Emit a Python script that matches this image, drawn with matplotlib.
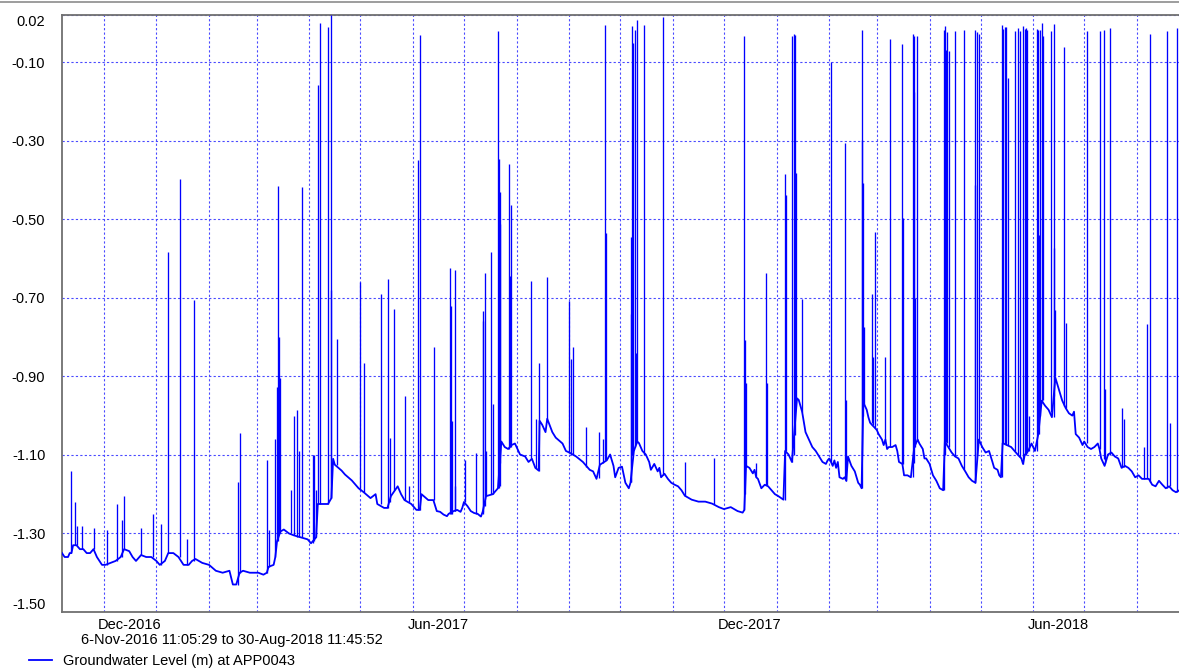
import matplotlib
matplotlib.use("Agg")
import matplotlib.pyplot as plt
import matplotlib.dates as mdates
from matplotlib.lines import Line2D
from matplotlib.ticker import NullFormatter
import pandas as pd

plt.rcParams['font.family'] = ['Liberation Sans', 'DejaVu Sans']

# groundwater level between events (date, level in m)
baseline = [
    ("2016-11-06 11:05", -1.35), ("2016-11-08", -1.36), ("2016-11-10", -1.36), ("2016-11-11", -1.35),
    ("2016-11-12", -1.35), ("2016-11-13", -1.33), ("2016-11-15", -1.33), ("2016-11-17", -1.34),
    ("2016-11-19", -1.34), ("2016-11-21", -1.35), ("2016-11-23", -1.35), ("2016-11-25", -1.34),
    ("2016-11-27", -1.36), ("2016-11-30", -1.38), ("2016-12-02", -1.38), ("2016-12-05", -1.375),
    ("2016-12-08", -1.37), ("2016-12-11", -1.36), ("2016-12-13", -1.34), ("2016-12-16", -1.345),
    ("2016-12-18", -1.36), ("2016-12-20", -1.37), ("2016-12-23", -1.355), ("2016-12-26", -1.36),
    ("2016-12-29", -1.36), ("2017-01-01", -1.37), ("2017-01-03", -1.38), ("2017-01-06", -1.37),
    ("2017-01-08", -1.35), ("2017-01-11", -1.35), ("2017-01-14", -1.36), ("2017-01-17", -1.38),
    ("2017-01-20", -1.38), ("2017-01-22", -1.37), ("2017-01-24", -1.365), ("2017-01-28", -1.375),
    ("2017-02-01", -1.38), ("2017-02-05", -1.395), ("2017-02-09", -1.40), ("2017-02-13", -1.395),
    ("2017-02-15", -1.43), ("2017-02-17", -1.43), ("2017-02-19", -1.40), ("2017-02-21", -1.395),
    ("2017-02-25", -1.40), ("2017-03-02", -1.40), ("2017-03-05", -1.405), ("2017-03-07", -1.40),
    ("2017-03-08", -1.385), ("2017-03-11", -1.38), ("2017-03-12", -1.36), ("2017-03-13", -1.32),
    ("2017-03-15", -1.295), ("2017-03-17", -1.29), ("2017-03-20", -1.30), ("2017-03-23", -1.305),
    ("2017-03-27", -1.31), ("2017-03-31", -1.315), ("2017-04-02", -1.325), ("2017-04-05", -1.31),
    ("2017-04-06", -1.225), ("2017-04-12", -1.225), ("2017-04-14", -1.21), ("2017-04-15", -1.11),
    ("2017-04-16", -1.125), ("2017-04-20", -1.14), ("2017-04-22", -1.15), ("2017-04-26", -1.165),
    ("2017-04-30", -1.185), ("2017-05-03", -1.195), ("2017-05-07", -1.21), ("2017-05-10", -1.20),
    ("2017-05-11", -1.225), ("2017-05-15", -1.235), ("2017-05-17", -1.235), ("2017-05-19", -1.205),
    ("2017-05-23", -1.18), ("2017-05-25", -1.20), ("2017-05-27", -1.215), ("2017-05-31", -1.225),
    ("2017-06-03", -1.24), ("2017-06-05", -1.24), ("2017-06-06", -1.20), ("2017-06-10", -1.215),
    ("2017-06-13", -1.215), ("2017-06-15", -1.243), ("2017-06-17", -1.245), ("2017-06-19", -1.252),
    ("2017-06-21", -1.256), ("2017-06-22", -1.25), ("2017-06-25", -1.243), ("2017-06-27", -1.24),
    ("2017-06-29", -1.245), ("2017-06-30", -1.235), ("2017-07-01", -1.22), ("2017-07-03", -1.23),
    ("2017-07-05", -1.243), ("2017-07-07", -1.248), ("2017-07-09", -1.25), ("2017-07-11", -1.257),
    ("2017-07-12", -1.245), ("2017-07-14", -1.205), ("2017-07-18", -1.20), ("2017-07-20", -1.19),
    ("2017-07-21", -1.185), ("2017-07-23", -1.066), ("2017-07-25", -1.08), ("2017-07-27", -1.085),
    ("2017-07-29", -1.075), ("2017-07-31", -1.071), ("2017-08-03", -1.099), ("2017-08-06", -1.104),
    ("2017-08-08", -1.118), ("2017-08-10", -1.11), ("2017-08-12", -1.133), ("2017-08-14", -1.14),
    ("2017-08-14 12:00", -1.013), ("2017-08-16", -1.023), ("2017-08-18", -1.042), ("2017-08-19", -1.008),
    ("2017-08-22", -1.042), ("2017-08-24", -1.056), ("2017-08-28", -1.071), ("2017-08-30", -1.09),
    ("2017-09-01", -1.094), ("2017-09-05", -1.104), ("2017-09-09", -1.118), ("2017-09-13", -1.138),
    ("2017-09-15", -1.142), ("2017-09-17", -1.161), ("2017-09-19", -1.125), ("2017-09-23", -1.114),
    ("2017-09-25", -1.099), ("2017-09-27", -1.128), ("2017-09-28", -1.157), ("2017-09-30", -1.133),
    ("2017-10-02", -1.13), ("2017-10-04", -1.171), ("2017-10-06", -1.185), ("2017-10-07", -1.171),
    ("2017-10-09", -1.09), ("2017-10-11", -1.066), ("2017-10-12", -1.07), ("2017-10-14", -1.09),
    ("2017-10-16", -1.099), ("2017-10-18", -1.118), ("2017-10-19", -1.138), ("2017-10-21", -1.123),
    ("2017-10-23", -1.142), ("2017-10-24", -1.133), ("2017-10-25", -1.157), ("2017-10-27", -1.148),
    ("2017-10-29", -1.161), ("2017-10-31", -1.171), ("2017-11-02", -1.176), ("2017-11-04", -1.18),
    ("2017-11-06", -1.19), ("2017-11-08", -1.204), ("2017-11-10", -1.209), ("2017-11-12", -1.214),
    ("2017-11-16", -1.219), ("2017-11-20", -1.219), ("2017-11-24", -1.224), ("2017-11-28", -1.233),
    ("2017-12-01", -1.238), ("2017-12-05", -1.233), ("2017-12-09", -1.243), ("2017-12-12", -1.247),
    ("2017-12-13", -1.24), ("2017-12-14", -1.128), ("2017-12-16", -1.133), ("2017-12-18", -1.147),
    ("2017-12-19", -1.138), ("2017-12-20", -1.157), ("2017-12-21", -1.161), ("2017-12-23", -1.185),
    ("2017-12-25", -1.176), ("2017-12-27", -1.18), ("2017-12-29", -1.19), ("2017-12-31", -1.20),
    ("2018-01-02", -1.205), ("2018-01-05", -1.214), ("2018-01-06", -1.09), ("2018-01-08", -1.099),
    ("2018-01-10", -1.118), ("2018-01-13", -0.956), ("2018-01-14", -0.96), ("2018-01-16", -0.99),
    ("2018-01-18", -1.042), ("2018-01-20", -1.061), ("2018-01-22", -1.08), ("2018-01-24", -1.09),
    ("2018-01-26", -1.104), ("2018-01-28", -1.118), ("2018-01-30", -1.123), ("2018-01-31", -1.114),
    ("2018-02-01", -1.109), ("2018-02-02", -1.118), ("2018-02-03", -1.128), ("2018-02-04", -1.114),
    ("2018-02-05", -1.133), ("2018-02-06", -1.118), ("2018-02-07", -1.157), ("2018-02-09", -1.161),
    ("2018-02-10", -1.157), ("2018-02-11", -1.166), ("2018-02-12", -1.104), ("2018-02-14", -1.128),
    ("2018-02-16", -1.142), ("2018-02-17", -1.157), ("2018-02-18", -1.171), ("2018-02-19", -1.176),
    ("2018-02-20", -1.185), ("2018-02-21", -0.966), ("2018-02-23", -0.985), ("2018-02-24", -1.004),
    ("2018-02-25", -1.018), ("2018-02-26", -1.023), ("2018-02-28", -1.032), ("2018-03-01", -1.037),
    ("2018-03-02", -1.047), ("2018-03-04", -1.061), ("2018-03-05", -1.075), ("2018-03-06", -1.061),
    ("2018-03-07", -1.085), ("2018-03-08", -1.08), ("2018-03-10", -1.08), ("2018-03-12", -1.075),
    ("2018-03-13", -1.09), ("2018-03-14", -1.118), ("2018-03-16", -1.123), ("2018-03-17", -1.152),
    ("2018-03-19", -1.152), ("2018-03-21", -1.157), ("2018-03-23", -1.08), ("2018-03-25", -1.061),
    ("2018-03-26", -1.071), ("2018-03-28", -1.085), ("2018-03-29", -1.109), ("2018-03-30", -1.109),
    ("2018-04-01", -1.123), ("2018-04-02", -1.138), ("2018-04-03", -1.152), ("2018-04-05", -1.166),
    ("2018-04-07", -1.185), ("2018-04-09", -1.19), ("2018-04-10", -1.066), ("2018-04-12", -1.08),
    ("2018-04-14", -1.094), ("2018-04-16", -1.104), ("2018-04-18", -1.109), ("2018-04-20", -1.128),
    ("2018-04-22", -1.142), ("2018-04-24", -1.157), ("2018-04-26", -1.166), ("2018-04-28", -1.171),
    ("2018-04-30", -1.061), ("2018-05-02", -1.08), ("2018-05-04", -1.094), ("2018-05-06", -1.09),
    ("2018-05-07", -1.104), ("2018-05-08", -1.118), ("2018-05-09", -1.133), ("2018-05-11", -1.138),
    ("2018-05-12", -1.152), ("2018-05-13", -1.157), ("2018-05-14", -1.07), ("2018-05-17", -1.076),
    ("2018-05-19", -1.08), ("2018-05-21", -1.09), ("2018-05-23", -1.10), ("2018-05-25", -1.109),
    ("2018-05-26", -1.123), ("2018-05-27", -1.10), ("2018-05-29", -1.09), ("2018-05-31", -1.071),
    ("2018-06-02", -1.09), ("2018-06-04", -1.047), ("2018-06-06", -0.962), ("2018-06-08", -0.975),
    ("2018-06-10", -0.985), ("2018-06-12", -1.004), ("2018-06-14", -0.903), ("2018-06-16", -0.932),
    ("2018-06-18", -0.961), ("2018-06-20", -0.98), ("2018-06-22", -0.994), ("2018-06-24", -1.0),
    ("2018-06-25", -0.99), ("2018-06-26", -1.047), ("2018-06-28", -1.056), ("2018-06-30", -1.075),
    ("2018-07-01", -1.066), ("2018-07-03", -1.08), ("2018-07-05", -1.085), ("2018-07-07", -1.08),
    ("2018-07-09", -1.071), ("2018-07-10", -1.085), ("2018-07-11", -1.109), ("2018-07-13", -1.128),
    ("2018-07-15", -1.099), ("2018-07-17", -1.094), ("2018-07-19", -1.104), ("2018-07-21", -1.109),
    ("2018-07-23", -1.133), ("2018-07-25", -1.128), ("2018-07-27", -1.133), ("2018-07-29", -1.142),
    ("2018-07-31", -1.157), ("2018-08-02", -1.152), ("2018-08-04", -1.161), ("2018-08-08", -1.161),
    ("2018-08-10", -1.176), ("2018-08-12", -1.18), ("2018-08-14", -1.166), ("2018-08-16", -1.176),
    ("2018-08-18", -1.185), ("2018-08-20", -1.18), ("2018-08-22", -1.19), ("2018-08-24", -1.195),
    ("2018-08-26", -1.19), ("2018-08-30 11:45", -1.19),
]

# short-lived peaks (date, level before, peak level)
spikes = [
    ("2016-11-12", -1.35, -1.14), ("2016-11-14", -1.33, -1.22), ("2016-11-15", -1.33, -1.28),
    ("2016-11-18", -1.34, -1.28), ("2016-11-25", -1.34, -1.285), ("2016-12-03", -1.38, -1.29),
    ("2016-12-09", -1.37, -1.225), ("2016-12-12", -1.36, -1.265), ("2016-12-13", -1.34, -1.205),
    ("2016-12-23", -1.355, -1.285), ("2016-12-30", -1.36, -1.25), ("2017-01-04", -1.38, -1.275),
    ("2017-01-08", -1.35, -0.583), ("2017-01-15", -1.36, -0.397), ("2017-01-19", -1.38, -1.315),
    ("2017-01-23", -1.37, -0.705), ("2017-02-18", -1.43, -1.17), ("2017-02-19", -1.40, -1.044),
    ("2017-03-07", -1.40, -1.114), ("2017-03-08", -1.385, -1.29), ("2017-03-12", -1.36, -1.06),
    ("2017-03-13", -1.32, -0.927), ("2017-03-13 12:00", -1.32, -0.416), ("2017-03-14", -1.30, -0.801),
    ("2017-03-14 12:00", -1.30, -0.903), ("2017-03-21", -1.30, -1.19), ("2017-03-23", -1.305, -1.002),
    ("2017-03-25", -1.31, -0.985), ("2017-03-26", -1.31, -1.09), ("2017-03-27 12:00", -1.31, -0.419),
    ("2017-04-03", -1.325, -1.10), ("2017-04-04", -1.32, -1.10), ("2017-04-05", -1.31, -1.19),
    ("2017-04-06", -1.225, -0.158), ("2017-04-07", -1.225, 0.0), ("2017-04-12", -1.225, -0.01),
    ("2017-04-13 12:00", -1.21, -0.68), ("2017-04-14", -1.21, 0.02), ("2017-04-17", -1.125, -0.806),
    ("2017-05-01", -1.19, -0.66), ("2017-05-03", -1.195, -0.865), ("2017-05-13", -1.225, -0.691),
    ("2017-05-17 12:00", -1.235, -0.652), ("2017-05-18 12:00", -1.22, -1.056), ("2017-05-21", -1.19, -0.728),
    ("2017-05-27 12:00", -1.215, -0.951), ("2017-05-29 12:00", -1.22, -1.178), ("2017-06-04", -1.24, -0.349),
    ("2017-06-05", -1.24, -0.03), ("2017-06-13 12:00", -1.215, -0.825), ("2017-06-23", -1.25, -0.624),
    ("2017-06-23 12:00", -1.25, -0.721), ("2017-06-24", -1.25, -1.013), ("2017-06-25 12:00", -1.243, -0.629),
    ("2017-06-26", -1.243, -1.18), ("2017-07-01 12:00", -1.22, -1.114), ("2017-07-08", -1.25, -1.094),
    ("2017-07-12", -1.25, -0.76), ("2017-07-12 12:00", -1.245, -0.733), ("2017-07-13 12:00", -1.23, -0.637),
    ("2017-07-14", -1.205, -1.09), ("2017-07-17", -1.20, -0.583), ("2017-07-18", -1.20, -0.97),
    ("2017-07-21", -1.185, -0.021), ("2017-07-21 12:00", -1.185, -0.347), ("2017-07-22", -1.18, -0.43),
    ("2017-07-22 12:00", -1.12, -0.511), ("2017-07-27 12:00", -1.085, -0.359), ("2017-07-28", -1.08, -0.645),
    ("2017-07-28 12:00", -1.08, -0.464), ("2017-08-09 12:00", -1.11, -0.657), ("2017-08-12 12:00", -1.133, -1.008),
    ("2017-08-14", -1.14, -0.865), ("2017-08-19", -1.008, -0.647), ("2017-09-01", -1.094, -0.707),
    ("2017-09-02", -1.10, -0.855), ("2017-09-03", -1.10, -0.825), ("2017-09-11", -1.13, -1.028),
    ("2017-09-18 12:00", -1.16, -1.042), ("2017-09-21", -1.12, -1.06), ("2017-09-22", -1.114, -0.005),
    ("2017-09-22 12:00", -1.114, -0.535), ("2017-10-07 06:00", -1.17, -0.741), ("2017-10-07 12:00", -1.17, -0.545),
    ("2017-10-08", -1.10, -0.007), ("2017-10-08 12:00", -1.09, -0.052), ("2017-10-09 12:00", -1.08, -0.019),
    ("2017-10-10", -1.07, -0.841), ("2017-10-11", -1.066, 0.008), ("2017-10-15", -1.099, -0.006),
    ("2017-10-26", -1.15, 0.015), ("2017-11-08", -1.204, -1.118), ("2017-11-25", -1.224, -1.109),
    ("2017-12-13", -1.24, -0.033), ("2017-12-13 12:00", -1.20, -0.808), ("2017-12-14", -1.13, -0.917),
    ("2017-12-20", -1.157, -1.12), ("2017-12-26", -1.176, -0.637), ("2017-12-26 12:00", -1.176, -0.917),
    ("2018-01-06", -1.214, -0.384), ("2018-01-06 06:00", -1.09, -0.439), ("2018-01-10", -1.118, -0.033),
    ("2018-01-11", -1.10, -0.028), ("2018-01-12", -1.05, -0.03), ("2018-01-12 12:00", -0.96, -0.382),
    ("2018-01-16", -0.99, -0.702), ("2018-02-02", -1.118, -0.10), ("2018-02-10", -1.157, -0.306),
    ("2018-02-11", -1.166, -0.961), ("2018-02-20", -1.185, -0.017), ("2018-02-20 12:00", -1.10, -0.297),
    ("2018-02-21", -1.0, -0.407), ("2018-02-21 12:00", -0.97, -0.774), ("2018-02-26", -1.02, -0.691),
    ("2018-02-26 12:00", -1.023, -0.851), ("2018-02-28", -1.032, -0.533), ("2018-03-06", -1.061, -0.851),
    ("2018-03-09", -1.08, -0.041), ("2018-03-16", -1.123, -0.054), ("2018-03-16 12:00", -1.123, -0.497),
    ("2018-03-22", -1.157, -0.028), ("2018-03-22 18:00", -1.12, -0.033), ("2018-03-23", -1.08, -0.176),
    ("2018-03-23 12:00", -1.08, -0.70), ("2018-03-24 12:00", -1.061, -0.033), ("2018-04-09 12:00", -1.19, -0.019),
    ("2018-04-10", -1.10, -0.009), ("2018-04-10 12:00", -1.066, -0.07), ("2018-04-11", -1.07, -0.024),
    ("2018-04-12 12:00", -1.08, -0.071), ("2018-04-16", -1.104, -0.021), ("2018-04-21 12:00", -1.135, -0.017),
    ("2018-04-27 12:00", -1.166, -0.412), ("2018-04-28", -1.171, -0.019), ("2018-04-29", -1.10, -0.024),
    ("2018-04-30", -1.061, -0.028), ("2018-05-13 12:00", -1.157, -0.005), ("2018-05-14 12:00", -1.07, -0.015),
    ("2018-05-15 12:00", -1.071, -0.01), ("2018-05-16", -1.075, -0.01), ("2018-05-17", -1.076, -0.141),
    ("2018-05-21", -1.09, -0.021), ("2018-05-23", -1.10, -0.012), ("2018-05-24", -1.105, -0.021),
    ("2018-05-26", -1.123, -0.007), ("2018-05-27", -1.10, -0.015), ("2018-05-27 18:00", -1.10, -0.012),
    ("2018-05-28 06:00", -1.095, -0.019), ("2018-05-29 06:00", -1.09, -1.0), ("2018-06-03", -1.09, -0.015),
    ("2018-06-04", -1.047, -0.017), ("2018-06-04 12:00", -1.047, -0.54), ("2018-06-05", -1.0, -0.017),
    ("2018-06-06", -0.962, 0.0), ("2018-06-07", -0.96, -0.033), ("2018-06-11 12:00", -0.99, -0.021),
    ("2018-06-13", -1.004, -0.003), ("2018-06-13 12:00", -0.95, -0.573), ("2018-06-14", -0.90, -0.73),
    ("2018-06-19", -0.975, -0.062), ("2018-06-20", -0.98, -0.765), ("2018-07-02 12:00", -1.07, -0.021),
    ("2018-07-10 12:00", -1.085, -0.021), ("2018-07-12 12:00", -1.11, -0.017), ("2018-07-13", -1.12, -0.932),
    ("2018-07-16", -1.099, -0.014), ("2018-07-23 12:00", -1.13, -0.98), ("2018-07-24 12:00", -1.13, -1.008),
    ("2018-08-05", -1.161, -1.08), ("2018-08-07", -1.16, -0.767), ("2018-08-09", -1.17, -0.028),
    ("2018-08-18 12:00", -1.185, -0.021), ("2018-08-20 12:00", -1.18, -1.018), ("2018-08-24 12:00", -1.195, -0.014),
]

y_ticks = [0.02, -0.10, -0.30, -0.50, -0.70, -0.90, -1.10, -1.30, -1.50]
y_labels = ["0.02", "-0.10", "-0.30", "-0.50", "-0.70", "-0.90", "-1.10", "-1.30", "-1.50"]
start_time = "2016-11-06 11:05:29"
end_time = "2018-08-30 11:45:52"
series_name = "Groundwater Level (m) at APP0043"
period_text = "6-Nov-2016 11:05:29 to 30-Aug-2018 11:45:52"

W, H = 1179, 668
fig = plt.figure(figsize=(W / 100, H / 100), dpi=100)
ax = fig.add_axes([62 / W, 1 - 612 / H, (1187 - 62) / W, (612 - 15) / H])

blue = "#0000ff"
base_x = pd.to_datetime([d for d, _ in baseline], format="ISO8601")
base_y = [v for _, v in baseline]
ax.plot(base_x, base_y, color=blue, lw=1.3, label=series_name, zorder=3)

spike_x = pd.to_datetime([s[0] for s in spikes], format="ISO8601")
ax.vlines(spike_x, [s[1] for s in spikes], [s[2] for s in spikes], color=blue, lw=0.95, zorder=3)

ax.set_xlim(pd.Timestamp(start_time), pd.Timestamp(end_time))
ax.set_ylim(-1.50, 0.02)

ax.set_yticks(y_ticks)
ax.set_yticklabels(y_labels, fontsize=10.5)
for lab in ax.get_yticklabels():
    if lab.get_text() == "0.02":
        lab.set_va("top")
    elif lab.get_text() == "-1.50":
        lab.set_va("bottom")

# month gridlines, labels mid-month on Jun/Dec
ax.xaxis.set_major_locator(mdates.MonthLocator())
ax.xaxis.set_major_formatter(NullFormatter())
ax.xaxis.set_minor_locator(mdates.MonthLocator(bymonth=[6, 12], bymonthday=16))
ax.xaxis.set_minor_formatter(mdates.DateFormatter("%b-%Y"))
ax.tick_params(which="both", length=0)
ax.tick_params(axis="x", which="minor", pad=4, labelsize=10.5)
ax.tick_params(axis="y", pad=12)

grid_kw = dict(color="#4a4aff", lw=0.8, linestyle=(0, (2, 2)))
ax.grid(axis="x", which="major", **grid_kw)
ax.grid(axis="y", which="major", **grid_kw)

for side in ["top", "left", "bottom"]:
    ax.spines[side].set_color("#707070")
    ax.spines[side].set_linewidth(1.3)
ax.spines["right"].set_visible(False)

fig.add_artist(Line2D([0, 1], [1 - 1.5 / H] * 2, transform=fig.transFigure, color="#8c8c8c", lw=1.2))

fig.text(81 / W, 1 - 640 / H, period_text, va="center", ha="left", fontsize=10.5)
ax.legend(loc="center left", bbox_to_anchor=(29 / W, 1 - 661 / H), bbox_transform=fig.transFigure,
          frameon=False, handlelength=1.55, handletextpad=0.75, borderpad=0, borderaxespad=0,
          fontsize=10.5)

fig.savefig("out.png", dpi=100)
